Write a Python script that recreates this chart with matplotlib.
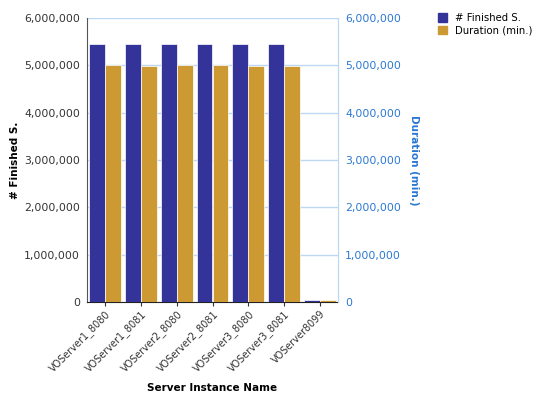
import matplotlib
matplotlib.use("Agg")
import matplotlib.pyplot as plt
import numpy as np
from matplotlib.ticker import FuncFormatter
from matplotlib.patches import Patch

categories = ["VOServer1_8080", "VOServer1_8081", "VOServer2_8080", "VOServer2_8081",
              "VOServer3_8080", "VOServer3_8081", "VOServer8099"]
finished = [5450000, 5450000, 5450000, 5450000, 5450000, 5450000, 45000]
duration = [5000000, 4985000, 5000000, 5000000, 4985000, 4985000, 45000]
yticks = [0, 1000000, 2000000, 3000000, 4000000, 5000000, 6000000]

blue = "#333399"
gold = "#CC9933"
rblue = "#2a78d4"
grid = "#bcd8f2"

plt.rcParams['font.family'] = ['DejaVu Sans']
fig = plt.figure(figsize=(5.39, 3.94), dpi=100)
ax = fig.add_axes([87/539, 1-302/394, (338-87)/539, (302-18)/394])
x = np.arange(len(categories))
w = 0.445
ax.bar(x - w/2, finished, w, color=blue, edgecolor="white", linewidth=0.5, zorder=3)
ax.bar(x + w/2, duration, w, color=gold, edgecolor="white", linewidth=0.5, zorder=3)
ax.set_xlim(-0.5, len(categories) - 0.5)
ax.set_ylim(0, 6000000)
ax.set_yticks(yticks)
fmt = FuncFormatter(lambda v, p: f"{int(v):,}")
ax.yaxis.set_major_formatter(fmt)
ax.grid(axis="y", color=grid, linewidth=1, zorder=0)
ax.set_axisbelow(True)
ax.tick_params(axis="y", length=0, labelsize=7.8, colors="#333333", pad=5)
ax.set_xticks(x)
ax.set_xticklabels(categories, rotation=45, ha="right", rotation_mode="anchor", fontsize=7, color="#333333")
ax.tick_params(axis="x", length=3, color="#333333", pad=2)
ax.spines["top"].set_visible(False)
ax.spines["left"].set_color("#555555")
ax.spines["bottom"].set_color("#222222")
ax.spines["right"].set_color(grid)
ax.set_ylabel("# Finished S.", fontsize=7.5, fontweight="bold", labelpad=3)
ax.set_xlabel("Server Instance Name", fontsize=7.5, fontweight="bold", labelpad=6)

ax2 = ax.twinx()
ax2.set_ylim(0, 6000000)
ax2.set_yticks(yticks)
ax2.yaxis.set_major_formatter(fmt)
ax2.tick_params(axis="y", length=0, labelsize=7.8, colors=rblue, pad=5)
for s in ["top", "left", "bottom"]:
    ax2.spines[s].set_visible(False)
ax2.spines["right"].set_color(grid)
ax2.set_ylabel("Duration (min.)", fontsize=7.5, fontweight="bold", color=rblue, rotation=270, labelpad=13)

handles = [Patch(color=blue), Patch(color=gold)]
fig.legend(handles, ["# Finished S.", "Duration (min.)"], loc="upper left",
           bbox_to_anchor=(435/539, 1-10/394), frameon=False, fontsize=7.3,
           handlelength=0.9, handleheight=0.9, handletextpad=0.8, labelspacing=0.25,
           borderaxespad=0, borderpad=0.3)

fig.savefig("out.png", dpi=100)
